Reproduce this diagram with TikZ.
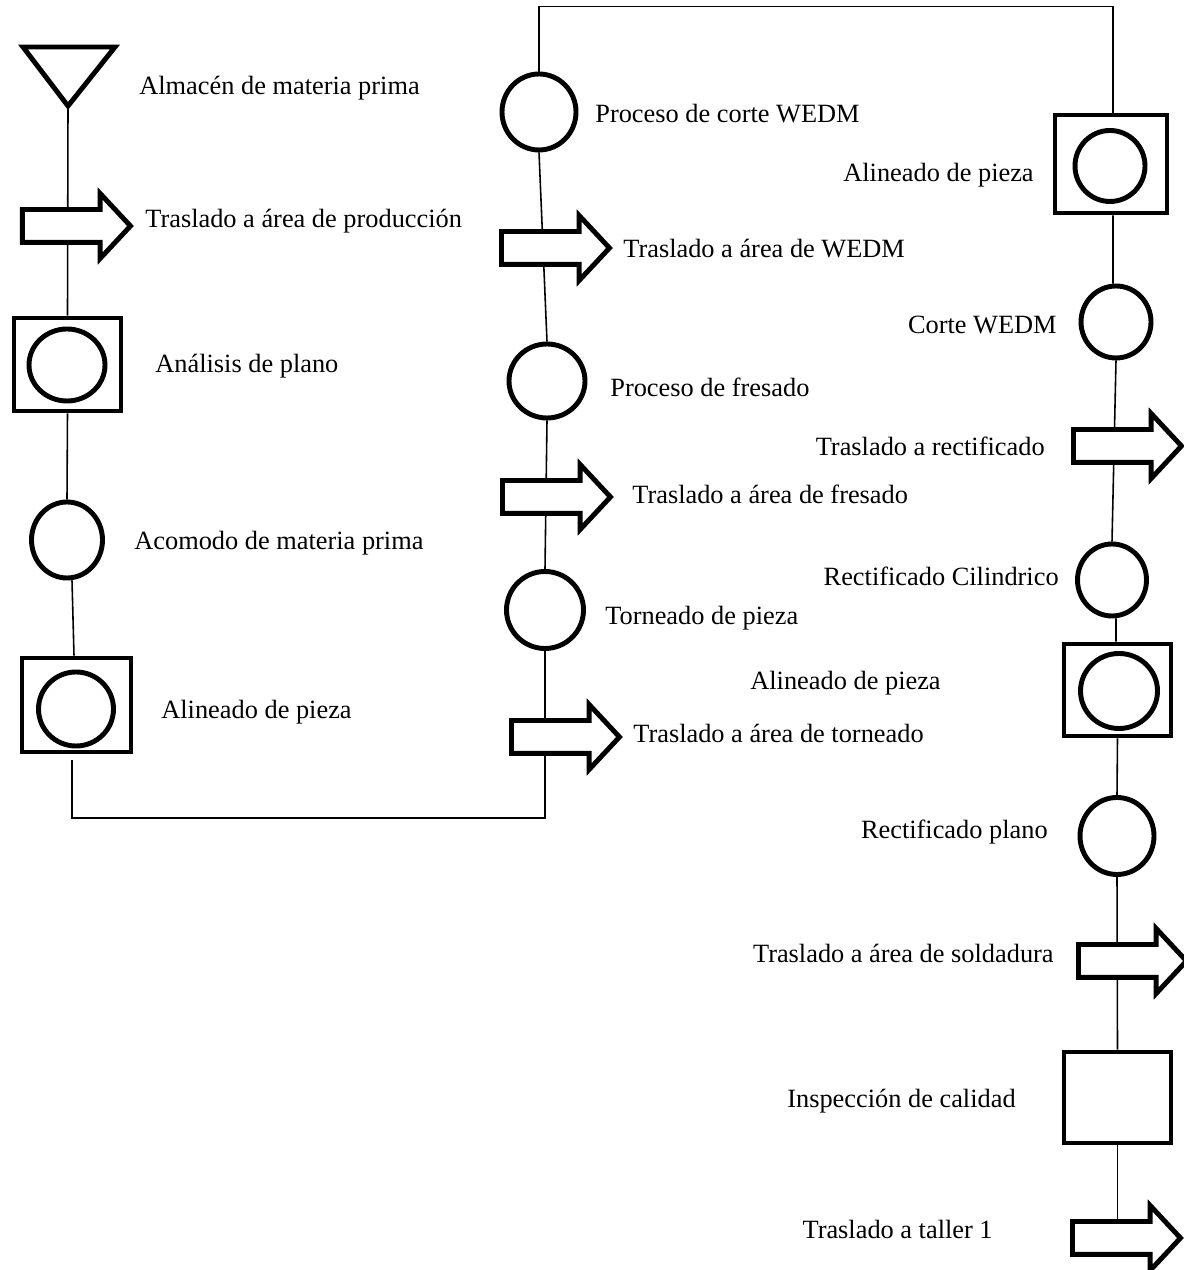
\documentclass[tikz,border=0pt]{standalone}
\usepackage{fontspec}
\setmainfont{Liberation Serif}
\usetikzlibrary{shapes.geometric,shapes.arrows,backgrounds}

\begin{document}
\begin{tikzpicture}[font=\fontsize{15}{18}\selectfont,
	forma/.style={draw, line width=2.8pt, inner sep=0pt},
	oper/.style={forma, ellipse, minimum width=1.48cm, minimum height=1.52cm},
	caja/.style={forma, rectangle, minimum width=2.14cm, minimum height=1.86cm},
	tras/.style={forma, fill=white, single arrow, anchor=tail, inner xsep=0pt, inner ysep=0.28cm,
		minimum height=2.16cm, single arrow head extend=0.32cm, single arrow tip angle=94},
	linea/.style={line width=0.9pt},
	lbl/.style={anchor=base west, inner sep=0pt},
	lbr/.style={anchor=base east, inner sep=0pt}]
			\useasboundingbox (0,0) rectangle (23.66,25.4);
			%%%	Primera columna
			\draw[line width=2.8pt, line join=miter] (0.46,24.46) -- (2.30,24.46) -- (1.36,23.28) -- cycle;
			\coordinate (alm) at (1.36,23.28);
			\node[lbl] (lalm) at (2.78,23.50) {Almacén de materia prima};
			\node[tras] (tr1) at (0.40,20.88) {};
			\node[lbl] (ltr1) at (2.90,20.84) {Traslado a área de producción};
			\node[caja] (ana) at (1.35,18.11) {};
			\node[oper, minimum width=1.52cm, minimum height=1.44cm] (anac) at (1.34,18.10) {};
			\node[lbl] (lana) at (3.10,17.94) {Análisis de plano};
			\node[oper, minimum width=1.42cm] (aco) at (1.34,14.60) {};
			\node[lbl] (laco) at (2.68,14.40) {Acomodo de materia prima};
			\node[caja, minimum width=2.18cm, minimum height=1.88cm] (ali1) at (1.53,11.30) {};
			\node[oper, minimum width=1.50cm, minimum height=1.48cm] (ali1c) at (1.52,11.22) {};
			\node[lbl] (lali1) at (3.22,11.02) {Alineado de pieza};
			\coordinate (s1) at (1.44,10.20);
			\coordinate (s0) at (1.44,9.04);

			%%%	Segunda columna
			\node[oper] (cor) at (10.78,23.16) {};
			\node[lbl] (lcor) at (11.90,22.94) {Proceso de corte WEDM};
			\node[tras] (tr2) at (9.98,20.44) {};
			\node[lbl] (ltr2) at (12.46,20.24) {Traslado a área de WEDM};
			\node[oper, minimum width=1.52cm, minimum height=1.48cm] (fre) at (10.94,17.78) {};
			\node[lbl] (lfre) at (12.20,17.46) {Proceso de fresado};
			\node[tras] (tr3) at (10.00,15.46) {};
			\node[lbl] (ltr3) at (12.64,15.32) {Traslado a área de fresado};
			\node[oper, minimum width=1.54cm, minimum height=1.54cm] (tor) at (10.90,13.20) {};
			\node[lbl] (ltor) at (12.10,12.90) {Torneado de pieza};
			\node[tras] (tr4) at (10.18,10.66) {};
			\node[lbl] (ltr4) at (12.66,10.54) {Traslado a área de torneado};

			%%%	Tercera columna
			\node[caja, minimum width=2.24cm, minimum height=1.96cm] (ali2) at (22.22,22.12) {};
			\node[oper, minimum width=1.40cm, minimum height=1.42cm] (ali2c) at (22.20,22.08) {};
			\node[lbr] (lali2) at (20.68,21.76) {Alineado de pieza};
			\node[oper, minimum width=1.40cm, minimum height=1.44cm] (cwe) at (22.32,18.96) {};
			\node[lbr] (lcwe) at (21.14,18.72) {Corte WEDM};
			\node[tras] (tr5) at (21.42,16.48) {};
			\node[lbr] (ltr5) at (20.90,16.28) {Traslado a rectificado};
			\node[oper, minimum width=1.38cm, minimum height=1.44cm] (rci) at (22.24,13.80) {};
			\node[lbr] (lrci) at (21.18,13.68) {Rectificado Cilindrico};
			\node[caja, minimum height=1.84cm] (ali3) at (22.35,11.60) {};
			\node[oper, minimum width=1.54cm, minimum height=1.50cm] (ali3c) at (22.38,11.58) {};
			\node[lbr] (lali3) at (18.82,11.60) {Alineado de pieza};
			\node[oper, minimum height=1.54cm] (rpl) at (22.34,8.68) {};
			\node[lbr] (lrpl) at (20.96,8.62) {Rectificado plano};
			\node[tras] (tr6) at (21.52,6.18) {};
			\node[lbr] (ltr6) at (21.08,6.14) {Traslado a área de soldadura};
			\node[caja, minimum height=1.82cm] (ins) at (22.35,3.45) {};
			\node[lbr] (lins) at (20.32,3.24) {Inspección de calidad};
			\node[tras] (tr7) at (21.40,0.64) {};
			\node[lbr] (ltr7) at (19.86,0.62) {Traslado a taller 1};

			%%%	Lineas de flujo
			\begin{scope}[on background layer]
				\draw[linea] (alm) -- (ana.north);
				\draw[linea] (ana.south) -- (aco.north);
				\draw[linea] ([xshift=0.1cm]aco.south) -- ([xshift=-0.05cm]ali1.north);
				\draw[linea] (cor.north) -- ++(0,1.30) -| ([xshift=0.04cm]ali2.north);
				\draw[linea] (cor.south) -- (fre.north);
				\draw[linea] (fre.south) -- (tor.north);
				\draw[linea] (tor.south) |- (s0) -- (s1);
				\draw[linea] ([xshift=0.04cm]ali2.south) -- ([xshift=-0.06cm]cwe.north);
				\draw[linea] (cwe.south) -- (rci.north);
				\draw[linea] ([xshift=0.08cm]rci.south) -- ([xshift=-0.03cm]ali3.north);
				\draw[linea] (ali3.south) -- (rpl.north);
				\draw[linea] (rpl.south) -- (ins.north);
				\draw[linea] (ins.south) -- (ins.south |- tr7.tail);
			\end{scope}
		\end{tikzpicture}
\end{document}
